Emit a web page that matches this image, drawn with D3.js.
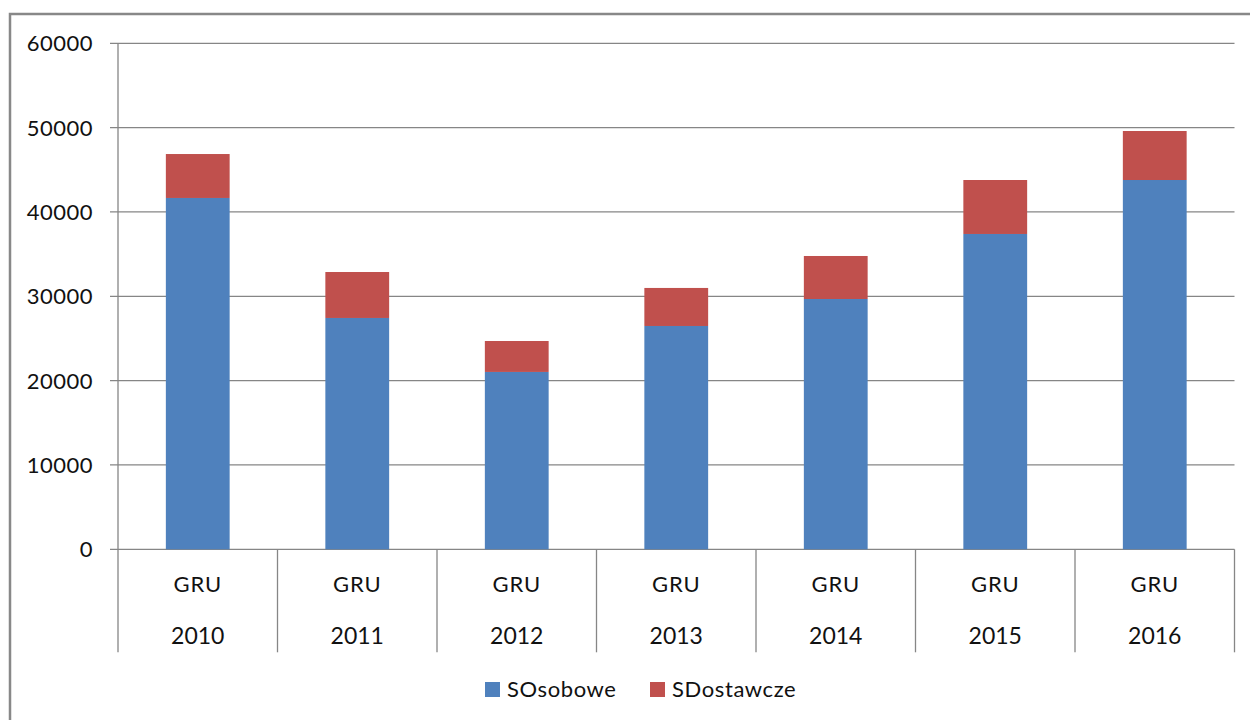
<!DOCTYPE html>
<html>
<head>
<meta charset="utf-8">
<script src="https://cdn.jsdelivr.net/npm/d3@7"></script>
<style>
  body { margin: 0; background: #fff; }
  svg { display: block; font-family: Lato, "Open Sans", sans-serif; }
</style>
</head>
<body>
<div id="chart"></div>
<script>
const years = ['2010', '2011', '2012', '2013', '2014', '2015', '2016'];
const groupLabel = 'GRU';
const osobowe = [41660, 27430, 21030, 26480, 29680, 37390, 43790];
const dostawcze = [5210, 5450, 3670, 4510, 5100, 6400, 5810];
const seriesNames = ['SOsobowe', 'SDostawcze'];
const seriesColors = ['#4f81bd', '#c0504d'];
const yTicks = [0, 10000, 20000, 30000, 40000, 50000, 60000];

const width = 1250;
const height = 720;
const margin = { left: 118, right: 15.5, top: 43.3, bottom: 170.7 };
const plotW = width - margin.left - margin.right;
const plotH = height - margin.top - margin.bottom;

const svg = d3.select('#chart')
  .append('svg')
  .attr('width', width)
  .attr('height', height);

// chart frame (only top and left edges show)
svg.append('path')
  .attr('d', `M10,${height} V14 H${width}`)
  .attr('fill', 'none')
  .attr('stroke', '#888')
  .attr('stroke-width', 2.5);

const g = svg.append('g').attr('transform', `translate(${margin.left},${margin.top})`);

const rows = years.map((y, i) => ({ year: y, SOsobowe: osobowe[i], SDostawcze: dostawcze[i] }));
const stacked = d3.stack().keys(seriesNames)(rows);

const x = d3.scaleBand().domain(years).range([0, plotW]).paddingInner(0.6).paddingOuter(0.3);
const slot = d3.scaleBand().domain(years).range([0, plotW]).padding(0);
const y = d3.scaleLinear().domain([0, 60000]).range([plotH, 0]);

// gridlines + tick marks
g.selectAll('line.grid')
  .data(yTicks)
  .join('line')
  .attr('class', 'grid')
  .attr('x1', -8)
  .attr('x2', plotW)
  .attr('y1', (d) => y(d))
  .attr('y2', (d) => y(d))
  .attr('stroke', '#868686')
  .attr('stroke-width', 1.3);

g.selectAll('text.ytick')
  .data(yTicks)
  .join('text')
  .attr('class', 'ytick')
  .attr('x', -25)
  .attr('y', (d) => y(d))
  .attr('dy', '0.36em')
  .attr('text-anchor', 'end')
  .attr('font-size', 22)
  .attr('letter-spacing', 0.5)
  .attr('fill', '#111')
  .text((d) => d);

// bars
g.selectAll('g.series')
  .data(stacked)
  .join('g')
  .attr('class', 'series')
  .attr('fill', (d, i) => seriesColors[i])
  .selectAll('rect')
  .data((d) => d)
  .join('rect')
  .attr('x', (d) => x(d.data.year))
  .attr('width', x.bandwidth())
  .attr('y', (d) => y(d[1]))
  .attr('height', (d) => y(d[0]) - y(d[1]));

// y axis line
g.append('line')
  .attr('x1', 0).attr('x2', 0)
  .attr('y1', 0).attr('y2', plotH + 103)
  .attr('stroke', '#868686')
  .attr('stroke-width', 1.3);

// category separators
g.selectAll('line.sep')
  .data(years)
  .join('line')
  .attr('class', 'sep')
  .attr('x1', (d) => slot(d) + slot.bandwidth())
  .attr('x2', (d) => slot(d) + slot.bandwidth())
  .attr('y1', plotH)
  .attr('y2', plotH + 103)
  .attr('stroke', '#868686')
  .attr('stroke-width', 1.3);

// category labels (two levels)
const cat = g.selectAll('g.cat')
  .data(years)
  .join('g')
  .attr('class', 'cat')
  .attr('transform', (d) => `translate(${slot(d) + slot.bandwidth() / 2},${plotH})`);

cat.append('text')
  .attr('y', 35)
  .attr('dy', '0.36em')
  .attr('text-anchor', 'middle')
  .attr('font-size', 22)
  .attr('letter-spacing', 0.8)
  .attr('fill', '#111')
  .text(groupLabel);

cat.append('text')
  .attr('y', 86)
  .attr('dy', '0.36em')
  .attr('text-anchor', 'middle')
  .attr('font-size', 23)
  .attr('fill', '#111')
  .text((d) => d);

// legend
const legendX = [485, 650];
const legend = svg.selectAll('g.legend')
  .data(seriesNames)
  .join('g')
  .attr('class', 'legend')
  .attr('transform', (d, i) => `translate(${legendX[i]},682)`);

legend.append('rect')
  .attr('width', 15)
  .attr('height', 15)
  .attr('fill', (d, i) => seriesColors[i]);

legend.append('text')
  .attr('x', 22)
  .attr('y', 7.5)
  .attr('dy', '0.36em')
  .attr('font-size', 22)
  .attr('letter-spacing', 0.6)
  .attr('fill', '#111')
  .text((d) => d);
</script>
</body>
</html>
